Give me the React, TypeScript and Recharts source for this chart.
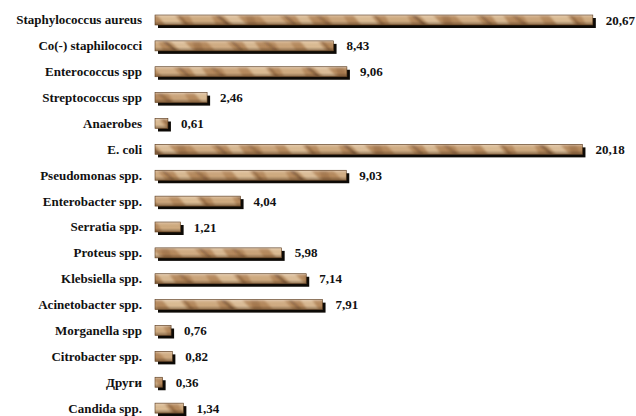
import React from "react";
import { BarChart, Bar, XAxis, YAxis, LabelList } from "recharts";

// Isolate distribution (%) by organism
const organisms: string[] = [
  "Staphylococcus aureus",
  "Co(-) staphilococci",
  "Enterococcus spp",
  "Streptococcus spp",
  "Anaerobes",
  "E. coli",
  "Pseudomonas spp.",
  "Enterobacter spp.",
  "Serratia spp.",
  "Proteus spp.",
  "Klebsiella spp.",
  "Acinetobacter spp.",
  "Morganella spp",
  "Citrobacter spp.",
  "Други",
  "Candida spp.",
];

const shares: number[] = [
  20.67, 8.43, 9.06, 2.46, 0.61, 20.18, 9.03, 4.04, 1.21, 5.98, 7.14, 7.91,
  0.76, 0.82, 0.36, 1.34,
];

const data = organisms.map((name, i) => ({ name, value: shares[i] }));

const FONT = "'Liberation Serif', 'Times New Roman', serif";

const formatValue = (v: number) => v.toFixed(2).replace(".", ",");

// Grain blotches: [x offset, width, slant, colour, opacity]
const GRAIN: [number, number, number, string, number][] = [
  [2, 18, 8, "#ecd2ab", 0.7],
  [22, 3, 9, "#6a431f", 0.45],
  [34, 22, 5, "#e6c69c", 0.55],
  [60, 4, 12, "#4f3116", 0.5],
  [68, 14, 10, "#f3dcb9", 0.65],
  [90, 8, 4, "#8a5c32", 0.35],
  [104, 20, 9, "#e9cba2", 0.55],
  [128, 3, 11, "#553416", 0.45],
  [140, 12, 7, "#f2d9b4", 0.6],
  [160, 5, 12, "#6e4520", 0.4],
  [172, 16, 6, "#e3c197", 0.5],
];

// Wood-grain bar with a hard drop shadow to the lower right
const WoodBar = (props: any) => {
  const { x, y, width, height, index } = props;
  if (width <= 0) return null;
  const pid = `wood-${index}`;
  const h = height;
  const pw = 196;
  const shift = (index * 53) % pw;
  return (
    <g>
      <defs>
        <pattern
          id={pid}
          x={x - shift}
          y={y}
          width={pw}
          height={h}
          patternUnits="userSpaceOnUse"
        >
          <rect x={0} y={0} width={pw} height={h} fill="#b88b5e" />
          <g filter="url(#grainSoft)">
            {GRAIN.map(([gx, gw, slant, c, o], k) => (
              <polygon
                key={k}
                points={`${gx},0 ${gx + gw},0 ${gx + gw + slant},${h} ${gx + slant},${h}`}
                fill={c}
                opacity={o}
              />
            ))}
          </g>
          <rect x={0} y={0} width={pw} height={h} fill="url(#woodShade)" />
        </pattern>
      </defs>
      <rect x={x + 3} y={y + 3} width={width} height={h} fill="#0d0a06" />
      <rect
        x={x}
        y={y}
        width={width}
        height={h}
        fill={`url(#${pid})`}
        stroke="#5a3a1c"
        strokeWidth={0.6}
      />
    </g>
  );
};

const NameTick = (props: any) => {
  const { x, y, payload } = props;
  return (
    <text
      x={x}
      y={y}
      dy={4.5}
      textAnchor="end"
      style={{ fontFamily: FONT, fontWeight: "bold", fontSize: 13 }}
      fill="#111"
    >
      {payload.value}
    </text>
  );
};

const ValueLabel = (props: any) => {
  const { x, y, width, height, value } = props;
  return (
    <text
      x={x + width + 13}
      y={y + height / 2 + 4.5}
      style={{ fontFamily: FONT, fontWeight: "bold", fontSize: 13 }}
      fill="#111"
    >
      {formatValue(value)}
    </text>
  );
};

export default function App() {
  return (
    <div style={{ position: "absolute", left: 0, top: 0, background: "#fff" }}>
      <BarChart
        width={636}
        height={416}
        data={data}
        layout="vertical"
        margin={{ top: 7, right: 15, bottom: -5, left: 0 }}
      >
        <defs>
          <linearGradient id="woodShade" x1="0" y1="0" x2="0" y2="1">
            <stop offset="0%" stopColor="#ffffff" stopOpacity={0.5} />
            <stop offset="18%" stopColor="#ffffff" stopOpacity={0.1} />
            <stop offset="60%" stopColor="#000000" stopOpacity={0} />
            <stop offset="100%" stopColor="#3a2108" stopOpacity={0.4} />
          </linearGradient>
          <filter id="grainSoft" x="-10%" y="-10%" width="120%" height="120%">
            <feGaussianBlur stdDeviation="1" />
          </filter>
        </defs>
        <XAxis type="number" domain={[0, 22]} hide />
        <YAxis
          type="category"
          dataKey="name"
          width={155}
          axisLine={false}
          tickLine={false}
          tickSize={0}
          tickMargin={13}
          interval={0}
          tick={<NameTick />}
        />
        <Bar
          dataKey="value"
          barSize={10}
          shape={<WoodBar />}
          isAnimationActive={false}
        >
          <LabelList dataKey="value" content={<ValueLabel />} />
        </Bar>
      </BarChart>
    </div>
  );
}
